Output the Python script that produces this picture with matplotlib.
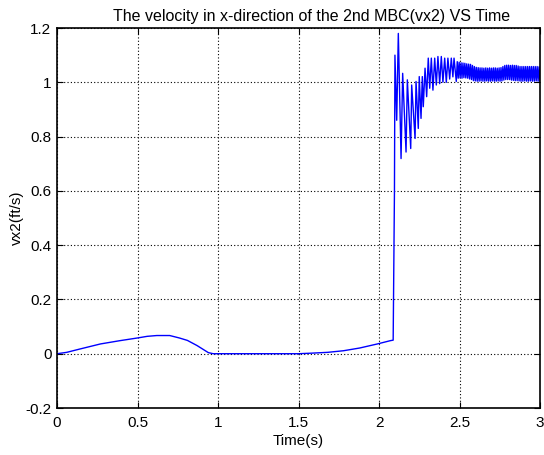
import numpy as np
import matplotlib
matplotlib.use("Agg")
import matplotlib.pyplot as plt

plt.rcParams['font.family'] = ['Liberation Sans', 'DejaVu Sans']

# smooth part of the curve (time, velocity)
t_smooth = [0.0, 0.06, 0.14, 0.27, 0.39, 0.50, 0.56, 0.62, 0.70, 0.76, 0.81, 0.87,
            0.91, 0.94, 0.97, 1.2, 1.5, 1.58, 1.68, 1.78, 1.88, 1.99, 2.07, 2.088]
v_smooth = [0.0, 0.005, 0.017, 0.036, 0.048, 0.058, 0.064, 0.067, 0.067, 0.058, 0.049, 0.030,
            0.015, 0.004, 0.0, 0.0, 0.0, 0.002, 0.005, 0.011, 0.021, 0.036, 0.048, 0.05]

# the jump and the decaying oscillation (extrema)
t_jump = [2.096, 2.099, 2.110, 2.120, 2.137, 2.147, 2.168, 2.176, 2.197, 2.203,
          2.224, 2.230, 2.244, 2.250, 2.261, 2.269, 2.275, 2.286, 2.296, 2.306,
          2.315, 2.325, 2.335, 2.346, 2.356, 2.366, 2.377, 2.387, 2.397, 2.408,
          2.418, 2.428, 2.439, 2.449, 2.459, 2.466, 2.480]
v_jump = [0.60, 1.10, 0.86, 1.18, 0.719, 1.033, 0.743, 1.009, 0.756, 0.990,
          0.793, 1.003, 0.830, 1.021, 0.867, 1.021, 0.910, 1.052, 0.947, 1.089,
          0.978, 1.089, 0.971, 1.089, 0.990, 1.095, 0.995, 1.095, 1.000, 1.089,
          1.000, 1.089, 1.012, 1.089, 1.020, 1.089, 1.003]

# steady oscillation from 2.486 to 3.0 (alternating peaks)
v_steady = [1.076, 1.015, 1.074, 1.016, 1.072, 1.015, 1.071, 1.017, 1.070, 1.016,
            1.068, 1.015, 1.067, 1.012, 1.066, 1.010, 1.062, 1.006, 1.058, 1.005,
            1.055, 1.004, 1.054, 1.004, 1.053, 1.005, 1.053, 1.004, 1.052, 1.004,
            1.053, 1.005, 1.052, 1.004, 1.053, 1.004, 1.052, 1.005, 1.053, 1.004,
            1.053, 1.004, 1.052, 1.005, 1.053, 1.004, 1.054, 1.005, 1.058, 1.008,
            1.062, 1.010, 1.063, 1.010, 1.063, 1.010, 1.062, 1.008, 1.063, 1.007,
            1.062, 1.006, 1.062, 1.006, 1.060, 1.005, 1.058, 1.004, 1.058, 1.004,
            1.058, 1.005, 1.058, 1.004, 1.058, 1.004, 1.058, 1.005, 1.058, 1.004,
            1.058, 1.004, 1.058, 1.005, 1.058, 1.004, 1.057, 1.004]
t_steady = np.linspace(2.486, 3.0, len(v_steady))

t = np.concatenate([t_smooth, t_jump, t_steady])
v = np.concatenate([v_smooth, v_jump, v_steady])

fig = plt.figure(figsize=(5.44, 4.55), dpi=100)
ax = fig.add_axes([57/544, 47/455, 483/544, 380/455])

ax.plot(t, v, color=(0, 0, 1), linewidth=1.0)

ax.set_xlim(0, 3)
ax.set_ylim(-0.2, 1.2)
ax.set_xticks([0, 0.5, 1, 1.5, 2, 2.5, 3])
ax.set_xticklabels(['0', '0.5', '1', '1.5', '2', '2.5', '3'])
ax.set_yticks([-0.2, 0, 0.2, 0.4, 0.6, 0.8, 1, 1.2])
ax.set_yticklabels(['-0.2', '0', '0.2', '0.4', '0.6', '0.8', '1', '1.2'])
ax.grid(True, color='black', linestyle=(0, (1, 2)), linewidth=0.8)
ax.tick_params(direction='in', length=4, width=0.8, labelsize=11,
               top=True, right=True, pad=4)
ax.tick_params(axis='x', pad=6)
for sp in ax.spines.values():
    sp.set_linewidth(1.2)

ax.set_title("The velocity in x-direction of the 2nd MBC(vx2) VS Time", fontsize=11.5, pad=5, x=0.527)
ax.set_xlabel("Time(s)", fontsize=11, labelpad=3)
ax.set_ylabel("vx2(ft/s)", fontsize=11, labelpad=1)

fig.savefig("out.png", dpi=100)
